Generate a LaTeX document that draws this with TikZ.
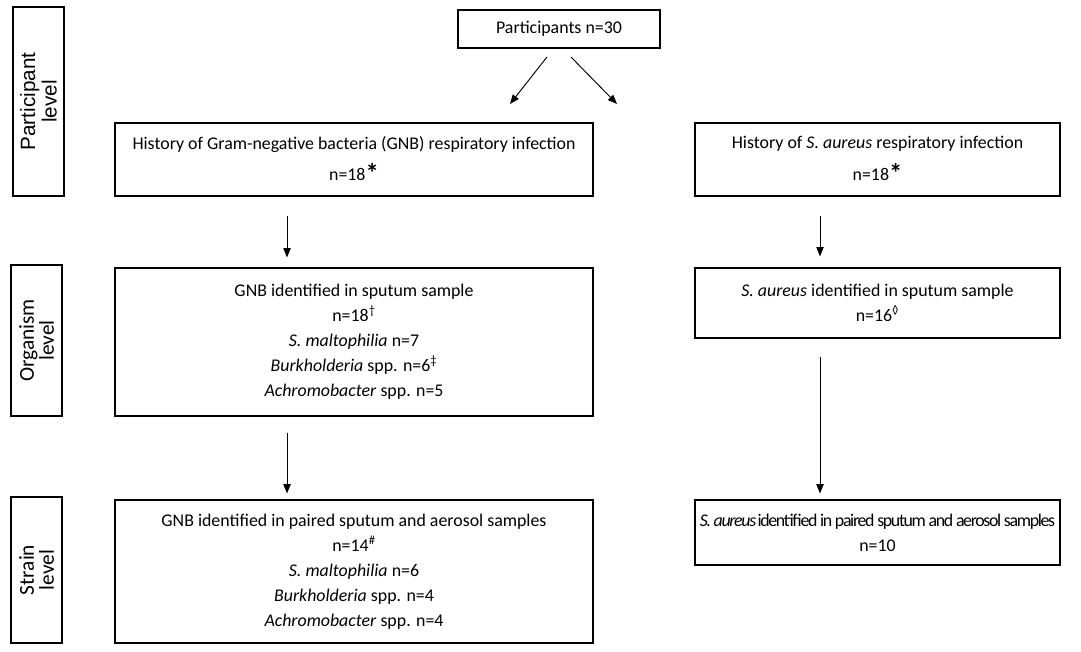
\documentclass[tikz,border=0pt]{standalone}
\usepackage{fontspec}
\setmainfont{Carlito}
\newfontfamily\arialfont{Liberation Sans}
\newcommand{\bigast}{\raisebox{-1.5pt}{\fontsize{20}{20}\selectfont\bfseries *}}
\usetikzlibrary{arrows.meta}

\begin{document}
\begin{tikzpicture}[x=0.75pt, y=-0.75pt, line width=0.8pt,
  box/.style={draw, align=center, inner sep=0pt, font=\fontsize{13.4}{18.75}\selectfont},
  side/.style={draw, rotate=90, align=center, inner sep=0pt, minimum height=38.25pt, font=\fontsize{16}{15}\selectfont},
  arr/.style={line width=0.7pt, -{Triangle[length=7pt,width=5.5pt]}}]

\useasboundingbox (0,0) rectangle (1081,652);

\node[box, minimum width=151.5pt, minimum height=28.5pt] (part) at (559,29) {Participants n=30};

\node[box, minimum width=358.5pt, minimum height=54.75pt] (hisL) at (354,159.5)
  {History of Gram-negative bacteria (GNB) respiratory infection\\[5pt] n=18\bigast};
\node[box, minimum width=273.75pt, minimum height=54.75pt] (hisR) at (877.5,159.5)
  {History of \textit{S. aureus} respiratory infection\\[5pt] n=18\bigast};

\node[box, minimum width=358.5pt, minimum height=111pt] (orgL) at (354,342)
  {GNB identified in sputum sample\\ n=18\textsuperscript{†}\\ \textit{S. maltophilia} n=7\\
   \textit{Burkholderia} spp. n=6\textsuperscript{‡}\\ \textit{Achromobacter} spp. n=5};
\node[box, minimum width=273.75pt, minimum height=52.5pt] (orgR) at (877.5,303)
  {\textit{S. aureus} identified in sputum sample\\ n=16\textsuperscript{◊}};

\node[box, minimum width=358.5pt, minimum height=107.25pt] (strL) at (354,571.5)
  {GNB identified in paired sputum and aerosol samples\\ n=14\textsuperscript{\#}\\ \textit{S. maltophilia} n=6\\
   \textit{Burkholderia} spp. n=4\\ \textit{Achromobacter} spp. n=4};
\node[box, minimum width=273.75pt, minimum height=48.75pt] (strR) at (877.5,532.5)
  {{\addfontfeature{LetterSpace=-7.5}\textit{S. aureus} identified in paired sputum and aerosol samples}\\ n=10};

% level labels
\node[side, minimum width=141.75pt, font=\arialfont\fontsize{15.5}{16}\selectfont] (lvPart) at (38.5,101.5) {Participant\\level};
\node[side, minimum width=113.25pt] (lvOrg) at (36.5,340.5) {Organism\\level};
\node[side, minimum width=109.5pt] (lvStr) at (36.5,570) {Strain\\level};

% arrows
\coordinate (xl) at (287,0);
\coordinate (xr) at (820,0);
\coordinate (pl) at (547,57);
\coordinate (pr) at (571,57);
\coordinate (hl) at (510,104);
\coordinate (hr) at (617,104);

\draw[arr] (pl) -- (hl);
\draw[arr] (pr) -- (hr);

\draw[arr, shorten <=14.25pt, shorten >=7.5pt] (hisL.south -| xl) -- (orgL.north -| xl);
\draw[arr, shorten <=12pt, shorten >=4.5pt] (orgL.south -| xl) -- (strL.north -| xl);
\draw[arr, shorten <=14.25pt, shorten >=8.25pt] (hisR.south -| xr) -- (orgR.north -| xr);
\draw[arr, shorten <=13.5pt, shorten >=4.5pt] (orgR.south -| xr) -- (strR.north -| xr);

\end{tikzpicture}
\end{document}
